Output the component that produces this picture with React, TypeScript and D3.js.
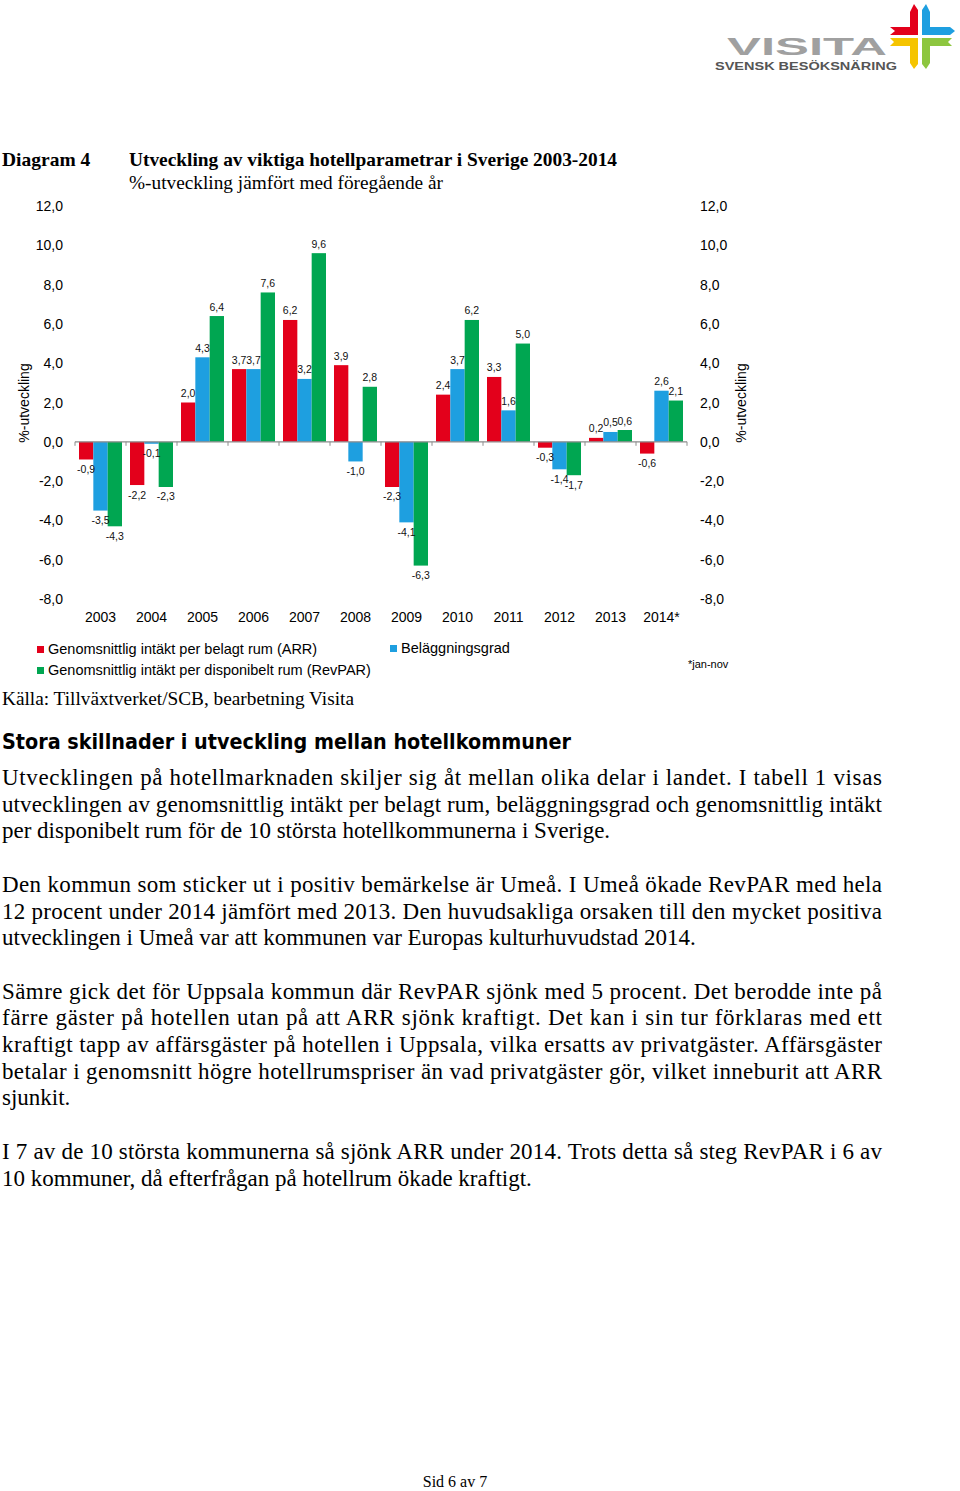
import React from 'react';
import * as d3 from 'd3';

const years = ['2003', '2004', '2005', '2006', '2007', '2008', '2009', '2010', '2011', '2012', '2013', '2014*'];
const arrValues = [-0.9, -2.2, 2.0, 3.7, 6.2, 3.9, -2.3, 2.4, 3.3, -0.3, 0.2, -0.6];
const occupancyValues = [-3.5, -0.1, 4.3, 3.7, 3.2, -1.0, -4.1, 3.7, 1.6, -1.4, 0.5, 2.6];
const revparValues = [-4.3, -2.3, 6.4, 7.6, 9.6, 2.8, -6.3, 6.2, 5.0, -1.7, 0.6, 2.1];
const yTicks = [12, 10, 8, 6, 4, 2, 0, -2, -4, -6, -8];
const seriesNames = [
  'Genomsnittlig intäkt per belagt rum (ARR)',
  'Beläggningsgrad',
  'Genomsnittlig intäkt per disponibelt rum (RevPAR)',
];
const seriesColors = ['#e3001b', '#1e9fe0', '#00a651'];

const para1 = [
  'Utvecklingen på hotellmarknaden skiljer sig åt mellan olika delar i landet. I tabell 1 visas',
  'utvecklingen av genomsnittlig intäkt per belagt rum, beläggningsgrad och genomsnittlig intäkt',
  'per disponibelt rum för de 10 största hotellkommunerna i Sverige.',
];
const para2 = [
  'Den kommun som sticker ut i positiv bemärkelse är Umeå. I Umeå ökade RevPAR med hela',
  '12 procent under 2014 jämfört med 2013. Den huvudsakliga orsaken till den mycket positiva',
  'utvecklingen i Umeå var att kommunen var Europas kulturhuvudstad 2014.',
];
const para3 = [
  'Sämre gick det för Uppsala kommun där RevPAR sjönk med 5 procent. Det berodde inte på',
  'färre gäster på hotellen utan på att ARR sjönk kraftigt. Det kan i sin tur förklaras med ett',
  'kraftigt tapp av affärsgäster på hotellen i Uppsala, vilka ersatts av privatgäster. Affärsgäster',
  'betalar i genomsnitt högre hotellrumspriser än vad privatgäster gör, vilket inneburit att ARR',
  'sjunkit.',
];
const para4 = [
  'I 7 av de 10 största kommunerna så sjönk ARR under 2014. Trots detta så steg RevPAR i 6 av',
  '10 kommuner, då efterfrågan på hotellrum ökade kraftigt.',
];

const fmt = (v: number) => d3.format('.1f')(v).replace('.', ',').replace('−', '-');

export default function App() {
  const series = [arrValues, occupancyValues, revparValues];
  const x = d3.scaleBand<string>().domain(years).range([75, 687]).padding(0);
  const x1 = d3
    .scaleBand<number>()
    .domain([0, 1, 2])
    .range([4, x.bandwidth() - 4])
    .padding(0);
  const y = d3.scaleLinear().domain([-8, 12]).range([599, 206]);
  const y0 = y(0);

  const serif = '"Liberation Serif", "Times New Roman", serif';
  const sans = '"Liberation Sans", Arial, sans-serif';

  const paragraphs = [
    { lines: para1, start: 0 },
    { lines: para2, start: 4 },
    { lines: para3, start: 8 },
    { lines: para4, start: 14 },
  ];
  const lineH = 26.7;
  const firstBase = 785;

  const boundaries = d3.range(years.length + 1).map((i) => 75 + i * x.bandwidth());

  return (
    <svg
      width={960}
      height={1491}
      style={{ position: 'absolute', left: 0, top: 0, background: '#fff' }}
    >
      <rect x={0} y={0} width={960} height={1491} fill="#fff" />
      {/* Logo */}
      <g>
        <text
          x={727}
          y={55}
          fontFamily={sans}
          fontWeight="bold"
          fontSize={24}
          fill="#a0a0a0"
          textLength={160}
          lengthAdjust="spacingAndGlyphs"
        >
          VISITA
        </text>
        <text
          x={715}
          y={70}
          fontFamily={sans}
          fontWeight="bold"
          fontSize={11}
          fill="#555"
          textLength={182}
          lengthAdjust="spacingAndGlyphs"
        >
          SVENSK BESÖKSNÄRING
        </text>
        {/* cross: red top-left */}
        <polygon points="910,12 914,4 918,10 918,35 890,35 895,31 890,27 910,27" fill="#e3001b" />
        {/* blue top-right */}
        <polygon points="922,10 926,4 930,12 930,27 950,27 955,31 950,35 922,35" fill="#1e9fe0" />
        {/* yellow bottom-left */}
        <polygon points="890,38 918,38 918,64 914,69 910,63 910,46 890,46 894,42" fill="#f5c400" />
        {/* green bottom-right */}
        <polygon points="922,38 952,38 948,42 952,46 930,46 930,63 926,69 922,64" fill="#8dc63f" />
      </g>

      {/* Chart title */}
      <text x={2} y={166} fontFamily={serif} fontWeight="bold" fontSize={19.5} fill="#000">
        Diagram 4
      </text>
      <text
        x={129}
        y={166}
        fontFamily={serif}
        fontWeight="bold"
        fontSize={19.5}
        fill="#000"
        textLength={488}
        lengthAdjust="spacingAndGlyphs"
      >
        Utveckling av viktiga hotellparametrar i Sverige 2003-2014
      </text>
      <text
        x={129}
        y={189}
        fontFamily={serif}
        fontSize={19.5}
        fill="#000"
        textLength={314}
        lengthAdjust="spacingAndGlyphs"
      >
        %-utveckling jämfört med föregående år
      </text>

      {/* Y axis tick labels */}
      {yTicks.map((t) => (
        <g key={'yt' + t}>
          <text x={63} y={y(t)} textAnchor="end" dominantBaseline="central" fontFamily={sans} fontSize={14} fill="#000">
            {fmt(t)}
          </text>
          <text x={700} y={y(t)} textAnchor="start" dominantBaseline="central" fontFamily={sans} fontSize={14} fill="#000">
            {fmt(t)}
          </text>
        </g>
      ))}

      {/* Axis titles */}
      <text
        transform={`translate(24,403) rotate(-90)`}
        textAnchor="middle"
        dominantBaseline="central"
        fontFamily={sans}
        fontSize={14}
        fill="#000"
      >
        %-utveckling
      </text>
      <text
        transform={`translate(741,403) rotate(-90)`}
        textAnchor="middle"
        dominantBaseline="central"
        fontFamily={sans}
        fontSize={14}
        fill="#000"
      >
        %-utveckling
      </text>

      {/* Bars */}
      {years.map((yr, i) => (
        <g key={yr} transform={`translate(${x(yr)},0)`}>
          {series.map((vals, s) => {
            const v = vals[i];
            const top = Math.min(y(v), y0);
            const h = Math.abs(y(v) - y0);
            return (
              <rect
                key={s}
                x={x1(s)}
                y={top}
                width={x1.bandwidth()}
                height={Math.max(h, 0.5)}
                fill={seriesColors[s]}
              />
            );
          })}
        </g>
      ))}

      {/* Zero axis */}
      <line x1={75} x2={687} y1={y0} y2={y0} stroke="#8c8c8c" strokeWidth={1.2} />
      {boundaries.map((bx, i) => (
        <line key={'tk' + i} x1={bx} x2={bx} y1={y0} y2={y0 + 4} stroke="#8c8c8c" strokeWidth={1} />
      ))}

      {/* Value labels */}
      {years.map((yr, i) => (
        <g key={'lbl' + yr} transform={`translate(${x(yr)},0)`}>
          {series.map((vals, s) => {
            const v = vals[i];
            const cx = (x1(s) as number) + x1.bandwidth() / 2;
            const ly = v >= 0 ? y(v) - 5.5 : y(v) + 13.5;
            return (
              <text key={s} x={cx} y={ly} textAnchor="middle" fontFamily={sans} fontSize={10.5} fill="#111">
                {fmt(v)}
              </text>
            );
          })}
        </g>
      ))}

      {/* X labels */}
      {years.map((yr) => (
        <text
          key={'xl' + yr}
          x={(x(yr) as number) + x.bandwidth() / 2}
          y={622}
          textAnchor="middle"
          fontFamily={sans}
          fontSize={14}
          fill="#000"
        >
          {yr}
        </text>
      ))}

      {/* Legend */}
      {[
        { s: 0, lx: 37, ly: 646 },
        { s: 1, lx: 390, ly: 645 },
        { s: 2, lx: 37, ly: 667 },
      ].map(({ s, lx, ly }) => (
        <g key={'lg' + s}>
          <rect x={lx} y={ly} width={7} height={7} fill={seriesColors[s]} />
          <text x={lx + 11} y={ly + 7.5} fontFamily={sans} fontSize={14.5} fill="#000">
            {seriesNames[s]}
          </text>
        </g>
      ))}
      <text x={688} y={668} fontFamily={sans} fontSize={11} fill="#000">
        *jan-nov
      </text>

      {/* Source */}
      <text
        x={2}
        y={705}
        fontFamily={serif}
        fontSize={19.5}
        fill="#000"
        textLength={352}
        lengthAdjust="spacingAndGlyphs"
      >
        Källa: Tillväxtverket/SCB, bearbetning Visita
      </text>

      {/* Heading */}
      <text
        x={2}
        y={749}
        fontFamily='"DejaVu Sans", Verdana, sans-serif'
        fontWeight="bold"
        fontSize={21}
        fill="#000"
        textLength={569}
        lengthAdjust="spacingAndGlyphs"
      >
        Stora skillnader i utveckling mellan hotellkommuner
      </text>

      {/* Body paragraphs */}
      {paragraphs.map((p, pi) =>
        p.lines.map((line, li) => {
          const isLast = li === p.lines.length - 1;
          const yy = firstBase + (p.start + li) * lineH;
          return (
            <text
              key={`p${pi}-${li}`}
              x={2}
              y={yy}
              fontFamily={serif}
              fontSize={23}
              fill="#000"
              {...(isLast ? {} : { textLength: 880, lengthAdjust: 'spacing' })}
            >
              {line}
            </text>
          );
        })
      )}

      {/* Footer */}
      <text x={455} y={1487} textAnchor="middle" fontFamily={serif} fontSize={16} fill="#000">
        Sid 6 av 7
      </text>
    </svg>
  );
}
